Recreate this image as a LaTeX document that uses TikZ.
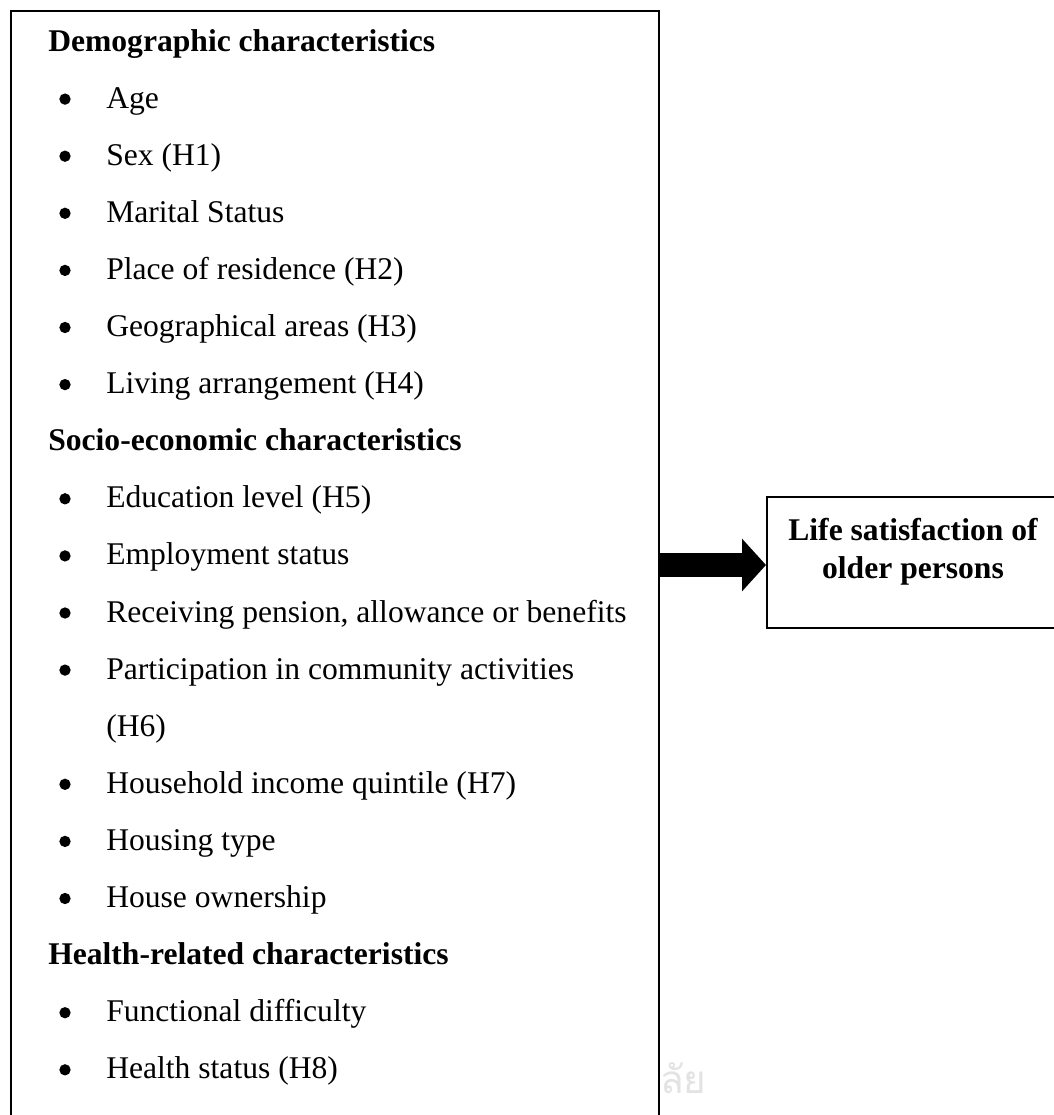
\documentclass[tikz,border=0pt]{standalone}
\usepackage{fontspec}
\setmainfont{Liberation Serif}
\newfontfamily\thaifont[Script=Thai]{Loma}
\usetikzlibrary{arrows.meta}
\begin{document}
\begin{tikzpicture}[x=0.75pt,y=-0.75pt,
  itemtext/.style={anchor=base west, inner sep=0pt, font=\fontsize{23.7}{28}\selectfont},
  headtext/.style={anchor=base west, inner sep=0pt, font=\fontsize{23.7}{28}\selectfont\bfseries},
  bulletdot/.style={circle, fill=black, inner sep=0pt, minimum size=8.5pt},
  boxtext/.style={anchor=base, inner sep=0pt, font=\fontsize{23.7}{28}\selectfont\bfseries},
  framebox/.style={draw=black, line width=1.5pt, fill=white, inner sep=0pt}
]
\useasboundingbox (0,0) rectangle (1054,1115);
\clip (0,0) rectangle (1054,1115);
\fill[white] (0,0) rectangle (1054,1115);

% faint watermark text
\node[anchor=base west, inner sep=0pt, text=black!11, font=\thaifont\fontsize{29}{32}\selectfont] (wm) at (660,1093) {ลัย};

% main box (bottom edge lies outside the picture)
\node[framebox, anchor=north west, minimum width=486pt, minimum height=860pt] (mainbox) at (10,10) {};

% right box
\node[framebox, anchor=north west, minimum width=222pt, minimum height=98.25pt] (outbox) at (766,496) {};
\node[boxtext] (out1) at (913,540) {Life satisfaction of};
\node[boxtext] (out2) at (913,578) {older persons};

% arrow
\coordinate (arrowy) at (0,565);
\draw[line width=18pt, -{Triangle[length=18pt, width=38.5pt]}] (mainbox.east |- arrowy) -- (outbox.west |- arrowy);

% list
\node[headtext] (h1) at (48,51.0) {Demographic characteristics};
\node[itemtext] (t1) at (106,108.1) {Age};
\node[itemtext] (t2) at (106,165.2) {Sex (H1)};
\node[itemtext] (t3) at (106,222.3) {Marital Status};
\node[itemtext] (t4) at (106,279.4) {Place of residence (H2)};
\node[itemtext] (t5) at (106,336.5) {Geographical areas (H3)};
\node[itemtext] (t6) at (106,393.6) {Living arrangement (H4)};
\node[headtext] (h2) at (48,450.7) {Socio-economic characteristics};
\node[itemtext] (t7) at (106,507.8) {Education level (H5)};
\node[itemtext] (t8) at (106,564.9) {Employment status};
\node[itemtext] (t9) at (106,622.0) {Receiving pension, allowance or benefits};
\node[itemtext] (t10) at (106,679.1) {Participation in community activities};
\node[itemtext] (t10b) at (106,736.2) {(H6)};
\node[itemtext] (t11) at (106,793.3) {Household income quintile (H7)};
\node[itemtext] (t12) at (106,850.4) {Housing type};
\node[itemtext] (t13) at (106,907.5) {House ownership};
\node[headtext] (h3) at (48,964.6) {Health-related characteristics};
\node[itemtext] (t14) at (106,1021.7) {Functional difficulty};
\node[itemtext] (t15) at (106,1078.8) {Health status (H8)};

% bullets
\foreach \n/\yy in {1/108.1,2/165.2,3/222.3,4/279.4,5/336.5,6/393.6,7/507.8,8/564.9,9/622.0,10/679.1,11/793.3,12/850.4,13/907.5,14/1021.7,15/1078.8}{
  \node[bulletdot] (b\n) at (65,\yy-9) {};
}
\end{tikzpicture}
\end{document}
